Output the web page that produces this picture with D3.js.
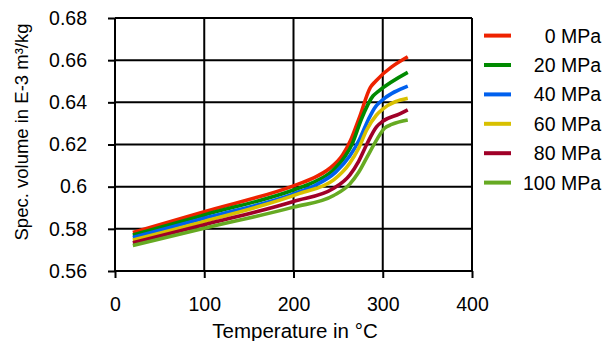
<!DOCTYPE html>
<html>
<head>
<meta charset="utf-8">
<script src="https://cdn.jsdelivr.net/npm/d3@7"></script>
<style>
  body { margin: 0; background: #fff; }
  svg { display: block; font-family: "Liberation Sans", Arial, sans-serif; }
</style>
</head>
<body>
<svg id="chart" width="605" height="341"></svg>
<script>
// --- data ---
const pressures = ["0 MPa", "20 MPa", "40 MPa", "60 MPa", "80 MPa", "100 MPa"];
const colors = ["#ee2200", "#008a00", "#0060ee", "#d8c000", "#a00028", "#66aa22"];

// [temperature °C, spec. volume E-3 m³/kg]
const p0 = [[20,0.5783],[100,0.5881],[200,0.6004],[220,0.6037],[240,0.6085],[255,0.6150],[264,0.6220],[274,0.6330],[286,0.6470],[292,0.6500],[328,0.6616]];
const p20 = [[20,0.5771],[100,0.5866],[200,0.5984],[222,0.6020],[243,0.6073],[258,0.6145],[266,0.6205],[276,0.6320],[289,0.6430],[295,0.6452],[328,0.6542]];
const p40 = [[20,0.5759],[100,0.5850],[200,0.5966],[225,0.6008],[247,0.6068],[263,0.6145],[274,0.6225],[284,0.6320],[292,0.6380],[298,0.6405],[328,0.6477]];
const p60 = [[20,0.5747],[100,0.5835],[207,0.5968],[245,0.6032],[263,0.6111],[273,0.6182],[282,0.6269],[293,0.6340],[300,0.6368],[328,0.6419]];
const p80 = [[20,0.5734],[100,0.5819],[200,0.5930],[245,0.5992],[263,0.6055],[273,0.6120],[282,0.6200],[293,0.6284],[300,0.6310],[319,0.6345],[328,0.6364]];
const p100 = [[20,0.5721],[100,0.5803],[200,0.5903],[245,0.5958],[263,0.6012],[273,0.6068],[283,0.6145],[293,0.6221],[302,0.6277],[310,0.6295],[328,0.6316]];
const series = [p0, p20, p40, p60, p80, p100];

const xTicks = [0, 100, 200, 300, 400];
const yTicks = [0.56, 0.58, 0.6, 0.62, 0.64, 0.66, 0.68];
const yTickLabels = ["0.56", "0.58", "0.6", "0.62", "0.64", "0.66", "0.68"];

const svg = d3.select("#chart");
const x = d3.scaleLinear().domain([0, 400]).range([115, 472]);
const y = d3.scaleLinear().domain([0.56, 0.68]).range([271, 18]);

// grid
svg.append("g")
  .selectAll("line")
  .data(yTicks)
  .join("line")
  .attr("x1", x(0)).attr("x2", x(400))
  .attr("y1", d => y(d)).attr("y2", d => y(d))
  .attr("stroke", "#000").attr("stroke-width", 2);

svg.append("g")
  .selectAll("line")
  .data(xTicks)
  .join("line")
  .attr("x1", d => x(d)).attr("x2", d => x(d))
  .attr("y1", y(0.56)).attr("y2", y(0.68))
  .attr("stroke", "#000").attr("stroke-width", 2);

// axes
const yAxis = svg.append("g")
  .attr("transform", `translate(${x(0)},0)`)
  .call(d3.axisLeft(y).tickValues(yTicks).tickSize(7).tickPadding(21)
    .tickFormat((d, i) => yTickLabels[i]));

const xAxis = svg.append("g")
  .attr("transform", `translate(0,${y(0.56)})`)
  .call(d3.axisBottom(x).tickValues(xTicks).tickSize(7).tickPadding(19));

[yAxis, xAxis].forEach(ax => {
  ax.select(".domain").remove();
  ax.selectAll(".tick line").attr("stroke", "#000").attr("stroke-width", 2);
  ax.selectAll(".tick text").attr("fill", "#000").style("font-size", "19.5px");
});

// curves
const line = d3.line()
  .x(d => x(d[0]))
  .y(d => y(d[1]))
  .curve(d3.curveMonotoneX);

svg.append("g")
  .selectAll("path")
  .data(series)
  .join("path")
  .attr("d", line)
  .attr("fill", "none")
  .attr("stroke", (d, i) => colors[i])
  .attr("stroke-width", 3.6)
  .attr("stroke-linejoin", "round");

// legend
const legend = svg.append("g")
  .selectAll("g")
  .data(pressures)
  .join("g")
  .attr("transform", (d, i) => `translate(0,${35.6 + i * 29.4})`);

legend.append("line")
  .attr("x1", 484).attr("x2", 511)
  .attr("stroke", (d, i) => colors[i])
  .attr("stroke-width", 4);

legend.append("text")
  .attr("x", 601).attr("y", 7)
  .attr("text-anchor", "end")
  .style("font-size", "19.5px")
  .text(d => d);

// axis titles
svg.append("text")
  .attr("x", 295).attr("y", 338)
  .attr("text-anchor", "middle")
  .style("font-size", "20.5px")
  .text("Temperature in °C");

svg.append("text")
  .attr("transform", "translate(28,132) rotate(-90)")
  .attr("text-anchor", "middle")
  .style("font-size", "18.5px")
  .text("Spec. volume in E-3 m³/kg");
</script>
</body>
</html>
